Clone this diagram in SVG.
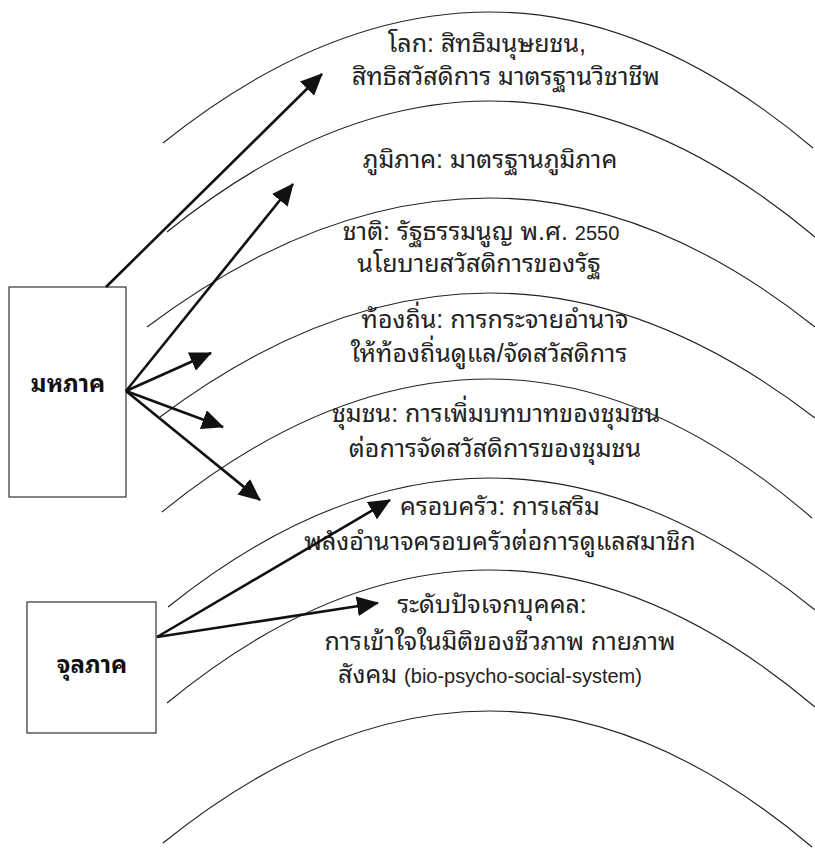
<svg xmlns="http://www.w3.org/2000/svg" width="815" height="848" viewBox="0 0 815 848">
<style>
.arc{fill:none;stroke:#222;stroke-width:1.1}
.box{fill:#fff;stroke:#333;stroke-width:1.2}
.lbl{font-family:"Liberation Sans","Noto Sans Thai Looped","Loma","Tahoma","Noto Sans Thai","Noto Sans",sans-serif;font-size:25px;fill:#222;text-anchor:middle}
.lat{font-size:20px}
.node{font-family:"Liberation Sans","Noto Sans Thai Looped","Loma","Tahoma","Noto Sans Thai","Noto Sans",sans-serif;font-size:24px;font-weight:bold;fill:#111;text-anchor:middle}
.arr{fill:none;stroke:#111;stroke-width:2.6;marker-end:url(#ah)}
</style>
<defs>
<marker id="ah" viewBox="0 0 22 20" refX="21" refY="10" markerWidth="22" markerHeight="20" markerUnits="userSpaceOnUse" orient="auto">
<path d="M0,0 L22,10 L0,20 z" fill="#111"/>
</marker>
</defs>
<rect width="815" height="848" fill="#fff"/>
<g id="ring-world">
<path class="arc" d="M163,143 Q326.5,12 490,12 Q651.5,12 813,148"/>
<text class="lbl" x="487" y="52">โลก: สิทธิมนุษยชน,</text>
<text class="lbl" x="506" y="85">สิทธิสวัสดิการ มาตรฐานวิชาชีพ</text>
</g>
<g id="ring-region">
<path class="arc" d="M167,232 Q328.5,101 490,101 Q652.5,101 815,237"/>
<text class="lbl" x="490" y="168">ภูมิภาค: มาตรฐานภูมิภาค</text>
</g>
<g id="ring-nation">
<path class="arc" d="M147,327 Q318.5,198 490,198 Q652.5,198 815,327"/>
<text class="lbl" x="481" y="240">ชาติ: รัฐธรรมนูญ พ.ศ. <tspan class="lat">2550</tspan></text>
<text class="lbl" x="479" y="272">นโยบายสวัสดิการของรัฐ</text>
</g>
<g id="ring-local">
<path class="arc" d="M160,417 Q325,293 490,293 Q652.5,293 815,418"/>
<text class="lbl" x="495" y="328">ท้องถิ่น: การกระจายอำนาจ</text>
<text class="lbl" x="489" y="362">ให้ท้องถิ่นดูแล/จัดสวัสดิการ</text>
</g>
<g id="ring-community">
<path class="arc" d="M162,512 Q326,379 490,379 Q651,379 812,518"/>
<text class="lbl" x="496" y="422">ชุมชน: การเพิ่มบทบาทของชุมชน</text>
<text class="lbl" x="495" y="457">ต่อการจัดสวัสดิการของชุมชน</text>
</g>
<g id="ring-family">
<path class="arc" d="M168,607 Q329,478 490,478 Q652.5,478 815,610"/>
<text class="lbl" x="500" y="515">ครอบครัว: การเสริม</text>
<text class="lbl" x="500" y="550">พลังอำนาจครอบครัวต่อการดูแลสมาชิก</text>
</g>
<g id="ring-individual">
<path class="arc" d="M167,703 Q328.5,570 490,570 Q652.5,570 815,707"/>
<text class="lbl" x="492" y="613">ระดับปัจเจกบุคคล:</text>
<text class="lbl" x="500" y="650">การเข้าใจในมิติของชีวภาพ กายภาพ</text>
<text class="lbl" x="490" y="683">สังคม <tspan class="lat">(bio-psycho-social-system)</tspan></text>
</g>
<g id="ring-outer">
<path class="arc" d="M163,843 Q326.5,711 490,711 Q651,711 812,847"/>
</g>
<g id="macro">
<rect class="box" x="9" y="287" width="117" height="210"/>
<text class="node" x="68" y="392">มหภาค</text>
</g>
<g id="micro">
<rect class="box" x="27" y="602" width="129" height="131"/>
<text class="node" x="92" y="673">จุลภาค</text>
</g>
<g id="connectors">
<line class="arr" x1="106" y1="287" x2="322" y2="74"/>
<line class="arr" x1="126" y1="391" x2="293" y2="184"/>
<line class="arr" x1="126" y1="391" x2="211" y2="353"/>
<line class="arr" x1="126" y1="391" x2="223" y2="427"/>
<line class="arr" x1="126" y1="391" x2="260" y2="500"/>
<line class="arr" x1="157" y1="637" x2="390" y2="500"/>
<line class="arr" x1="157" y1="637" x2="378" y2="603"/>
</g>
</svg>
